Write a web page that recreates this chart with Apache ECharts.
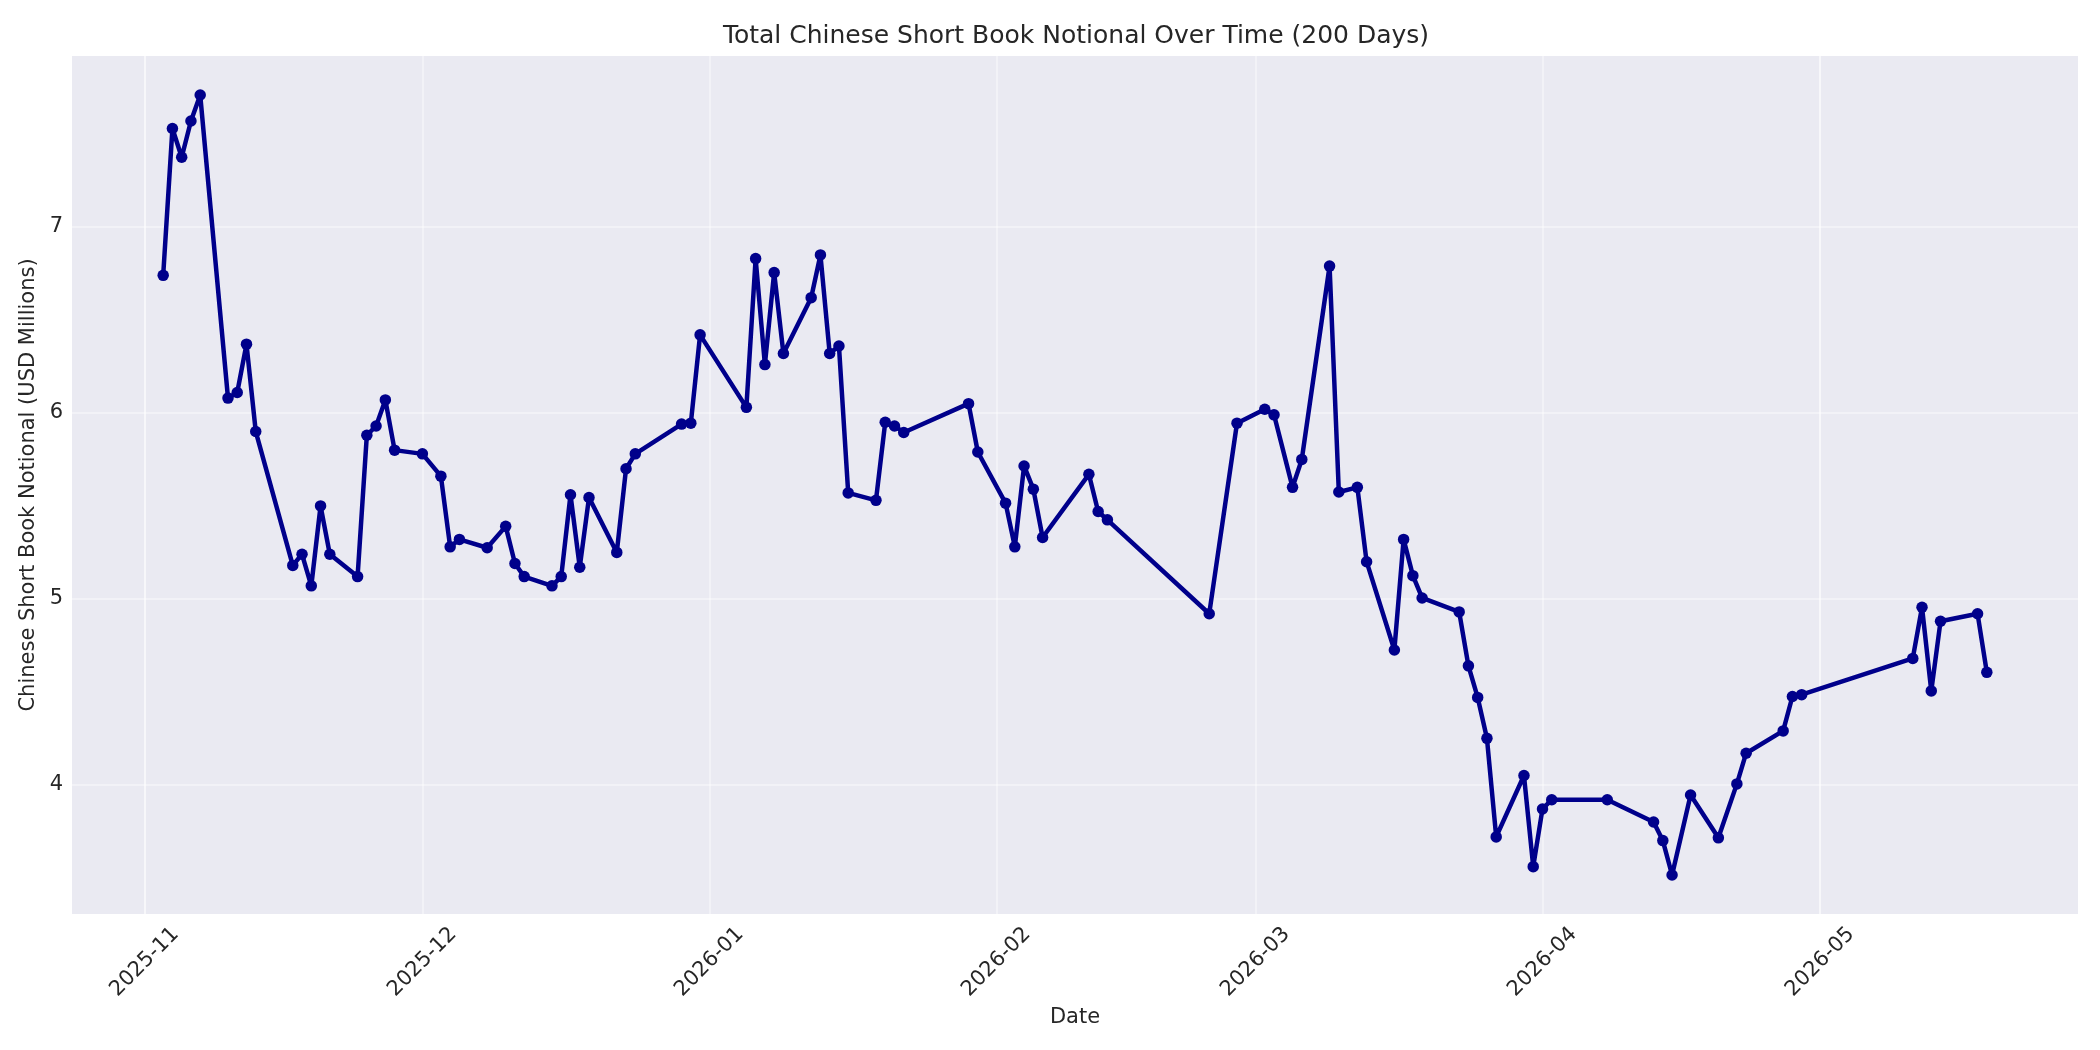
<!DOCTYPE html>
<html>
<head>
<meta charset="utf-8">
<script src="https://cdn.jsdelivr.net/npm/echarts@6/dist/echarts.min.js"></script>
<style>
html,body{margin:0;padding:0;background:#fff;}
#chart{width:2100px;height:1050px;}
</style>
</head>
<body>
<div id="chart"></div>
<script>
const dates = [
  '2025-11-03','2025-11-04','2025-11-05','2025-11-06','2025-11-07',
  '2025-11-10','2025-11-11','2025-11-12','2025-11-13',
  '2025-11-17','2025-11-18','2025-11-19','2025-11-20','2025-11-21',
  '2025-11-24','2025-11-25','2025-11-26','2025-11-27','2025-11-28',
  '2025-12-01','2025-12-03','2025-12-04','2025-12-05',
  '2025-12-08','2025-12-10','2025-12-11','2025-12-12',
  '2025-12-15','2025-12-16','2025-12-17','2025-12-18','2025-12-19',
  '2025-12-22','2025-12-23','2025-12-24',
  '2025-12-29','2025-12-30','2025-12-31',
  '2026-01-05','2026-01-06','2026-01-07','2026-01-08','2026-01-09',
  '2026-01-12','2026-01-13','2026-01-14','2026-01-15','2026-01-16',
  '2026-01-19','2026-01-20','2026-01-21','2026-01-22',
  '2026-01-29','2026-01-30',
  '2026-02-02','2026-02-03','2026-02-04','2026-02-05','2026-02-06',
  '2026-02-11','2026-02-12','2026-02-13',
  '2026-02-24','2026-02-27',
  '2026-03-02','2026-03-03','2026-03-05','2026-03-06',
  '2026-03-09','2026-03-10','2026-03-12','2026-03-13',
  '2026-03-16','2026-03-17','2026-03-18','2026-03-19',
  '2026-03-23','2026-03-24','2026-03-25','2026-03-26','2026-03-27',
  '2026-03-30','2026-03-31','2026-04-01','2026-04-02',
  '2026-04-08',
  '2026-04-13','2026-04-14','2026-04-15','2026-04-17',
  '2026-04-20','2026-04-22','2026-04-23',
  '2026-04-27','2026-04-28','2026-04-29',
  '2026-05-11','2026-05-12','2026-05-13','2026-05-14',
  '2026-05-18','2026-05-19'
];
const notional = [
  6.74, 7.53, 7.375, 7.57, 7.71,
  6.08, 6.11, 6.37, 5.90,
  5.18, 5.24, 5.07, 5.50, 5.24,
  5.12, 5.88, 5.93, 6.07, 5.80,
  5.78, 5.66, 5.28, 5.32,
  5.275, 5.39, 5.19, 5.12,
  5.07, 5.12, 5.56, 5.17, 5.545,
  5.25, 5.70, 5.78,
  5.94, 5.945, 6.42,
  6.03, 6.83, 6.26, 6.755, 6.32,
  6.62, 6.85, 6.32, 6.36, 5.57,
  5.53, 5.95, 5.93, 5.895,
  6.05, 5.79,
  5.515, 5.28, 5.715, 5.59, 5.33,
  5.67, 5.47, 5.425,
  4.92, 5.945,
  6.02, 5.99, 5.60, 5.75,
  6.79, 5.575, 5.60, 5.20,
  4.725, 5.32, 5.125, 5.005,
  4.93, 4.64, 4.47, 4.25, 3.72,
  4.05, 3.56, 3.87, 3.92,
  3.92,
  3.80, 3.70, 3.515, 3.945,
  3.715, 4.005, 4.17,
  4.29, 4.475, 4.485,
  4.68, 4.955, 4.505, 4.88,
  4.92, 4.605
];
const monthTicks = ['2025-11-01','2025-12-01','2026-01-01','2026-02-01','2026-03-01','2026-04-01','2026-05-01'];
const yTicks = [4, 5, 6, 7];

function toLocal(s){ const p = s.split('-').map(Number); return new Date(p[0], p[1]-1, p[2]).getTime(); }
const t0 = toLocal(dates[0]), t1 = toLocal(dates[dates.length-1]);
const xPad = (t1 - t0) * 0.05;
const vMin = Math.min(...notional), vMax = Math.max(...notional);
const yPad = (vMax - vMin) * 0.05;

const chart = echarts.init(document.getElementById('chart'), null, {renderer:'canvas'});
const textColor = '#262626';
const font = 'DejaVu Sans';
chart.setOption({
  backgroundColor: '#ffffff',
  animation: false,
  title: {
    text: 'Total Chinese Short Book Notional Over Time (200 Days)',
    left: 1071, top: 19, textAlign: 'center',
    textStyle: {fontFamily: font, fontSize: 25, fontWeight: 'normal', color: textColor}
  },
  grid: {left: 72, right: 22, top: 56, bottom: 136, containLabel: false,
         show: true, backgroundColor: '#EAEAF2', borderWidth: 0},
  xAxis: {
    type: 'time',
    min: t0 - xPad, max: t1 + xPad,
    name: 'Date', nameLocation: 'middle', nameGap: 90,
    nameTextStyle: {fontFamily: font, fontSize: 21, color: textColor},
    axisLine: {show: false},
    axisTick: {show: false, customValues: monthTicks.map(toLocal)},
    axisLabel: {
      customValues: monthTicks.map(toLocal),
      formatter: '{yyyy}-{MM}',
      rotate: 45, align: 'center', verticalAlign: 'middle', margin: 48,
      fontFamily: font, fontSize: 21, color: textColor,
      showMinLabel: true, showMaxLabel: true, hideOverlap: false
    },
    splitLine: {show: true, lineStyle: {color: 'rgba(255,255,255,0.38)', width: 2}}
  },
  yAxis: {
    type: 'value',
    min: vMin - yPad, max: vMax + yPad,
    name: 'Chinese Short Book Notional (USD Millions)', nameLocation: 'middle', nameGap: 28,
    nameTextStyle: {fontFamily: font, fontSize: 21, color: textColor},
    axisLine: {show: false},
    axisTick: {show: false, customValues: yTicks},
    axisLabel: {customValues: yTicks, margin: 9, fontFamily: font, fontSize: 21, color: textColor},
    splitLine: {show: true, lineStyle: {color: 'rgba(255,255,255,0.38)', width: 2}}
  },
  series: [{
    type: 'line',
    data: dates.map((d, i) => [toLocal(d), notional[i]]),
    symbol: 'circle', symbolSize: 11.5, showAllSymbol: true,
    lineStyle: {color: '#00008B', width: 4.5},
    itemStyle: {color: '#00008B'},
    emphasis: {disabled: true}
  }]
});
</script>
</body>
</html>
